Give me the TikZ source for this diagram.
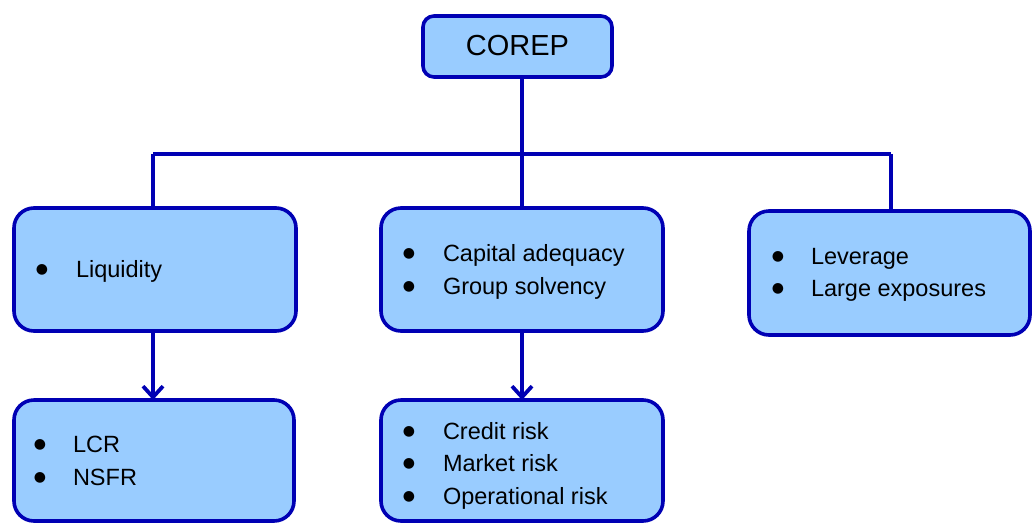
\documentclass[tikz,border=0pt]{standalone}
\usepackage{fontspec}
\setmainfont{Liberation Sans}
\newfontfamily\bulfont{DejaVu Sans}
\usetikzlibrary{arrows.meta}
\definecolor{boxfill}{HTML}{99CCFF}
\definecolor{boxline}{HTML}{0000B4}
\tikzset{
  box/.style={draw=boxline, fill=boxfill, line width=3.6pt, rounded corners=20pt, inner sep=0pt, outer sep=0pt},
  conn/.style={draw=boxline, line width=3.8pt},
  arr/.style={conn, -{Straight Barb[length=11pt,width=20pt,line width=3.8pt]}},
  txt/.style={inner sep=0pt, outer sep=0pt, font=\fontsize{23.5pt}{28pt}\selectfont},
  bul/.style={inner sep=0pt, outer sep=0pt, anchor=base, yshift=4pt, font=\bulfont\fontsize{14pt}{15pt}\selectfont},
  itm/.style={txt, anchor=base west}
}
\begin{document}
\begin{tikzpicture}[x=1pt,y=-1pt]
\useasboundingbox (0,0) rectangle (1036,523);
\clip (0,0) rectangle (1036,523);
% boxes
\node[box, rounded corners=11pt, minimum width=189pt, minimum height=61pt] (corep) at (517.5,46.5) {};
\node[txt, font=\fontsize{29pt}{32pt}\selectfont] (corept) at (517.5,45.5) {COREP};
\node[box, minimum width=282pt, minimum height=123pt] (liq) at (155,269.5) {};
\node[box, minimum width=282pt, minimum height=123pt] (cap) at (522,269.5) {};
\node[box, minimum width=281pt, minimum height=124pt] (lev) at (889.5,273) {};
\node[box, minimum width=280pt, minimum height=121pt] (lcr) at (154,460.5) {};
\node[box, minimum width=282pt, minimum height=121pt] (risk) at (522,460.5) {};
% connectors
\coordinate (bus) at (521,154);
\draw[conn] (corep.south -| cap.north) -- (cap.north);
\draw[conn] ([xshift=-2pt]liq.north |- bus) -- ([xshift=1.5pt]lev.north |- bus);
\draw[conn] ([xshift=-2pt]liq.north |- bus) -- ([xshift=-2pt]liq.north);
\draw[conn] ([xshift=1.5pt]lev.north |- bus) -- ([xshift=1.5pt]lev.north);
\draw[arr] ([xshift=-2pt]liq.south) -- ([xshift=-2pt]liq.south |- lcr.north);
\draw[arr] (cap.south) -- (cap.south |- risk.north);
% texts
\node[bul] (b1) at (42,277.5) {●};
\node[itm] (t1) at (76,277.5) {Liquidity};
\node[bul] (b2) at (409,261.5) {●};
\node[itm] (t2) at (443,261.5) {Capital adequacy};
\node[bul] (b3) at (409,294) {●};
\node[itm] (t3) at (443,294) {Group solvency};
\node[bul] (b4) at (778,264) {●};
\node[itm] (t4) at (811,264) {Leverage};
\node[bul] (b5) at (778,296.7) {●};
\node[itm] (t5) at (811,296.7) {Large exposures};
\node[bul] (b6) at (40,452.5) {●};
\node[itm] (t6) at (73,452.5) {LCR};
\node[bul] (b7) at (40,485.5) {●};
\node[itm] (t7) at (73,485.5) {NSFR};
\node[bul] (b8) at (409,439.3) {●};
\node[itm] (t8) at (443,439.3) {Credit risk};
\node[bul] (b9) at (409,471.7) {●};
\node[itm] (t9) at (443,471.7) {Market risk};
\node[bul] (b10) at (409,504) {●};
\node[itm] (t10) at (443,504) {Operational risk};
\end{tikzpicture}
\end{document}
